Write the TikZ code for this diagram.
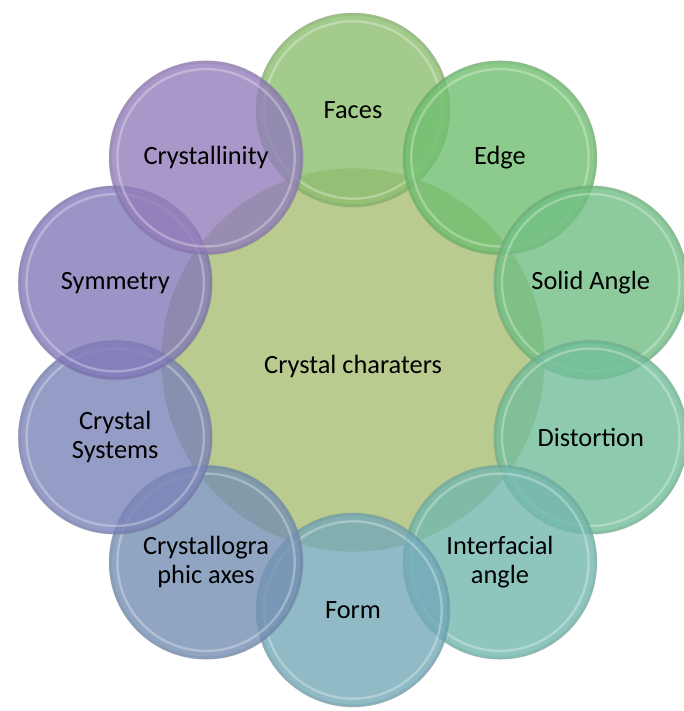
\documentclass[tikz,border=0pt]{standalone}
\usepackage{fontspec}
\setmainfont{Carlito}
\usepackage{tikz}
\usepackage{xcolor}
\usetikzlibrary{positioning}

\definecolor{centrefill}{RGB}{185,203,142}
\definecolor{facesfill}{RGB}{139,190,111}
\definecolor{edgefill}{RGB}{112,190,111}
\definecolor{solidfill}{RGB}{112,190,131}
\definecolor{distortfill}{RGB}{114,189,154}
\definecolor{interfill}{RGB}{114,184,174}
\definecolor{formfill}{RGB}{115,169,184}
\definecolor{axesfill}{RGB}{116,143,179}
\definecolor{systemsfill}{RGB}{123,131,184}
\definecolor{symmfill}{RGB}{130,121,184}
\definecolor{crystfill}{RGB}{146,125,186}

\tikzset{
	centre/.style={circle, fill=centrefill, minimum size=11.5cm, inner sep=0pt},
	petal/.style={circle, minimum size=5.82cm, inner sep=0pt, align=center,
		fill opacity=.8, text opacity=1,
		draw=black!50, draw opacity=.35, line width=.5pt,
		path picture={
			\draw[white, draw opacity=.3, line width=2pt]
				(path picture bounding box.center) circle (2.66cm);
			\draw[black, draw opacity=.05, line width=2pt]
				(path picture bounding box.center) circle (2.86cm);
		}},
	label text/.style={font=\fontsize{22.5}{25}\selectfont}
}

\begin{document}
\begin{tikzpicture}[label text]
		\def\R{7.5}

		\useasboundingbox (-10.59,-10.53) rectangle (9.9,10.8);

		\node[centre] (crystal) at (0,0) {};

		\node[petal, fill=facesfill] (faces) at (90:\R) {Faces};
		\node[petal, fill=edgefill] (edge) at (54:\R) {Edge};
		\node[petal, fill=solidfill] (solid) at (18:\R) {Solid Angle};
		\node[petal, fill=distortfill] (distortion) at (-18:\R) {Distortion};
		\node[petal, fill=interfill] (interfacial) at (-54:\R) {Interfacial\\angle};
		\node[petal, fill=formfill] (form) at (-90:\R) {Form};
		\node[petal, fill=axesfill] (axes) at (-126:\R) {Crystallogra\\phic axes};
		\node[petal, fill=systemsfill] (systems) at (-162:\R) {Crystal\\Systems};
		\node[petal, fill=symmfill] (symmetry) at (162:\R) {Symmetry};
		\node[petal, fill=crystfill] (crystallinity) at (126:\R) {Crystallinity};

		\node at (crystal.center) [yshift=-0.2cm] {Crystal charaters};
	\end{tikzpicture}
\end{document}
